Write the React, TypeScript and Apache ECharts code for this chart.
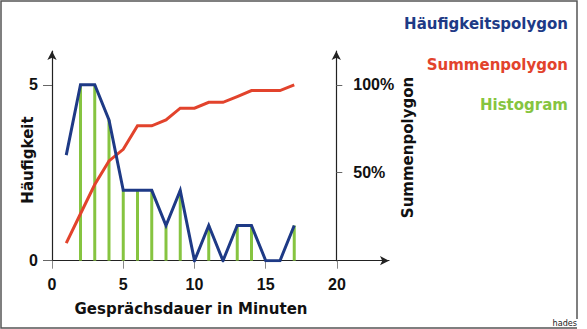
import React, { useEffect, useRef } from "react";
import * as echarts from "echarts";

const minutes = [1, 2, 3, 4, 5, 6, 7, 8, 9, 10, 11, 12, 13, 14, 15, 16, 17];
const frequency = [3, 5, 5, 4, 2, 2, 2, 1, 2, 0, 1, 0, 1, 1, 0, 0, 1];
const histogram = [null, 5, 5, 4, 2, 2, 2, 1, 2, 0, 1, 0, 1, 1, 0, 0, 1];
const cumulativePct = [10, 26.7, 43.3, 56.7, 63.3, 76.7, 76.7, 80, 86.7, 86.7, 90, 90, 93.3, 96.7, 96.7, 96.7, 100];
const xTicks = [0, 5, 10, 15, 20];
const leftTicks = [0, 5];
const rightTicks = [50, 100];

const BLUE = "#1e3a86";
const RED = "#e2432c";
const GREEN = "#86c440";
const LABEL_FONT = "'Liberation Sans', Arial, sans-serif";
const TITLE_FONT = "'DejaVu Sans', sans-serif";

export default function App() {
  const ref = useRef<HTMLDivElement>(null);

  useEffect(() => {
    if (!ref.current) return;
    const chart = echarts.init(ref.current, undefined, { renderer: "svg" });

    const labelStyle = {
      fontFamily: LABEL_FONT,
      fontWeight: "bold" as const,
      fontSize: 16,
      color: "#111",
    };

    const axisLineStyle = { color: "#222", width: 1.2 };

    const option = {
      animation: false,
      backgroundColor: "#fff",
      grid: {
        left: 52,
        top: 51,
        right: 198,
        bottom: 68.3,
        outerBoundsMode: "none",
      },
      xAxis: {
        type: "value",
        min: 0,
        max: 23.65,
        splitLine: { show: false },
        axisLine: {
          show: true,
          lineStyle: axisLineStyle,
          symbol: ["none", "arrow"],
          symbolSize: [7, 9],
        },
        axisTick: {
          show: true,
          customValues: xTicks,
          length: 8,
          lineStyle: { color: "#888", width: 1 },
        },
        axisLabel: {
          customValues: xTicks,
          margin: 16,
          ...labelStyle,
        },
      },
      yAxis: [
        {
          type: "value",
          min: 0,
          max: 5.96,
          position: "left",
          splitLine: { show: false },
          axisLine: {
            show: true,
            lineStyle: axisLineStyle,
            symbol: ["none", "arrow"],
            symbolSize: [7, 9],
          },
          axisTick: {
            show: true,
            customValues: leftTicks,
            length: 9,
            lineStyle: { color: "#666", width: 1 },
          },
          axisLabel: {
            customValues: leftTicks,
            margin: 14,
            ...labelStyle,
          },
        },
        {
          type: "value",
          min: 0,
          max: 119.2,
          position: "right",
          offset: -52.7,
          splitLine: { show: false },
          axisLine: {
            show: true,
            lineStyle: axisLineStyle,
            symbol: ["none", "arrow"],
            symbolSize: [7, 9],
          },
          axisTick: {
            show: true,
            customValues: rightTicks,
            length: 6,
            lineStyle: { color: "#666", width: 1 },
          },
          axisLabel: {
            customValues: rightTicks,
            margin: 17,
            formatter: (v: number) => v + "%",
            ...labelStyle,
          },
        },
      ],
      series: [
        {
          name: "Histogram",
          type: "bar",
          xAxisIndex: 0,
          yAxisIndex: 0,
          barWidth: 3,
          itemStyle: { color: GREEN },
          data: minutes.map((m, i) => [m, histogram[i]]),
          z: 1,
        },
        {
          name: "Summenpolygon",
          type: "line",
          xAxisIndex: 0,
          yAxisIndex: 1,
          symbol: "none",
          lineStyle: { color: RED, width: 3, join: "miter" },
          data: minutes.map((m, i) => [m, cumulativePct[i]]),
          z: 2,
        },
        {
          name: "Häufigkeitspolygon",
          type: "line",
          xAxisIndex: 0,
          yAxisIndex: 0,
          symbol: "none",
          lineStyle: { color: BLUE, width: 3, join: "miter" },
          data: minutes.map((m, i) => [m, frequency[i]]),
          z: 3,
        },
      ],
      graphic: [
        {
          type: "polyline",
          shape: {
            points: [
              [577, 319],
              [577, 1],
              [1, 1],
              [1, 328],
              [577, 328],
            ],
          },
          style: { stroke: "#555", lineWidth: 1.5, fill: null },
          silent: true,
        },
        {
          type: "text",
          x: 577,
          y: 323,
          style: {
            text: "hades",
            fontFamily: "'Liberation Sans Narrow', 'DejaVu Sans Condensed', sans-serif",
            fontSize: 9,
            fill: "#222",
            align: "right",
            verticalAlign: "middle",
          },
        },
        {
          type: "text",
          x: 568,
          y: 24,
          style: {
            text: "Häufigkeitspolygon",
            fontFamily: TITLE_FONT,
            fontWeight: "bold",
            fontSize: 15,
            fill: BLUE,
            align: "right",
            verticalAlign: "middle",
          },
        },
        {
          type: "text",
          x: 568,
          y: 65,
          style: {
            text: "Summenpolygon",
            fontFamily: TITLE_FONT,
            fontWeight: "bold",
            fontSize: 15,
            fill: RED,
            align: "right",
            verticalAlign: "middle",
          },
        },
        {
          type: "text",
          x: 568,
          y: 105,
          style: {
            text: "Histogram",
            fontFamily: TITLE_FONT,
            fontWeight: "bold",
            fontSize: 15,
            fill: GREEN,
            align: "right",
            verticalAlign: "middle",
          },
        },
        {
          type: "text",
          x: 191,
          y: 309,
          style: {
            text: "Gesprächsdauer in Minuten",
            fontFamily: TITLE_FONT,
            fontWeight: "bold",
            fontSize: 15,
            fill: "#111",
            align: "center",
            verticalAlign: "middle",
          },
        },
        {
          type: "text",
          x: 27.5,
          y: 160,
          rotation: Math.PI / 2,
          style: {
            text: "Häufigkeit",
            fontFamily: TITLE_FONT,
            fontWeight: "bold",
            fontSize: 15,
            fill: "#111",
            align: "center",
            verticalAlign: "middle",
          },
        },
        {
          type: "text",
          x: 408.3,
          y: 147.5,
          rotation: Math.PI / 2,
          style: {
            text: "Summenpolygon",
            fontFamily: TITLE_FONT,
            fontWeight: "bold",
            fontSize: 15,
            fill: "#111",
            align: "center",
            verticalAlign: "middle",
          },
        },
      ],
    };

    chart.setOption(option as any);
    return () => chart.dispose();
  }, []);

  return (
    <div
      ref={ref}
      style={{ position: "fixed", left: 0, top: 0, width: 587, height: 329 }}
    />
  );
}
